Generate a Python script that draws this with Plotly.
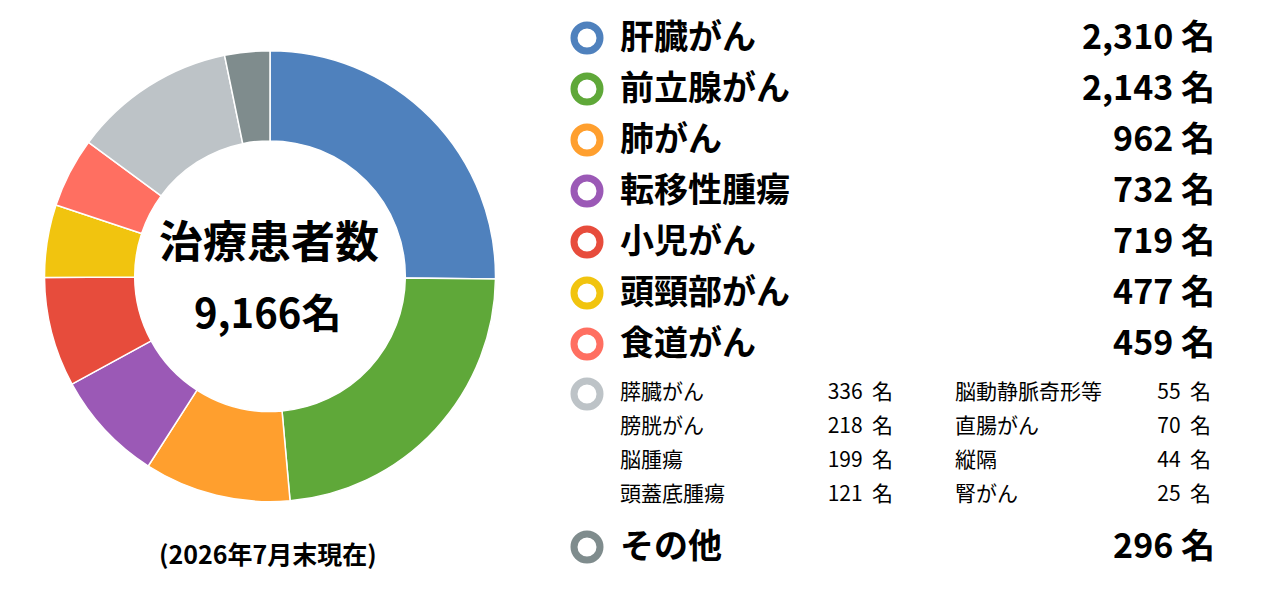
import plotly.graph_objects as go

# 治療患者数の内訳 (2026年7月末現在)
main_labels = ["肝臓がん", "前立腺がん", "肺がん", "転移性腫瘍", "小児がん", "頭頸部がん", "食道がん"]
main_values = [2310, 2143, 962, 732, 719, 477, 459]

# 灰色のグループ(少数の部位)
minor_labels_l = ["膵臓がん", "膀胱がん", "脳腫瘍", "頭蓋底腫瘍"]
minor_values_l = [336, 218, 199, 121]
minor_labels_r = ["脳動静脈奇形等", "直腸がん", "縦隔", "腎がん"]
minor_values_r = [55, 70, 44, 25]

other_label = "その他"
other_value = 296

colors = ["#4F81BD", "#5FA839", "#FF9F2E", "#9B59B6", "#E74C3C",
          "#F1C40F", "#FF6F61", "#BDC3C7", "#7F8C8D"]

minor_total = sum(minor_values_l) + sum(minor_values_r)
pie_values = main_values + [minor_total, other_value]
pie_labels = main_labels + ["その他の部位", other_label]
total = sum(pie_values)

W, H = 1278, 594
OFF = 8  # page body margin, everything is drawn shifted by this
JP = "Noto Sans CJK JP"


def px(x):
    return x - OFF


def py(y):
    return y - OFF


fig = go.Figure()

# ドーナツ
cx, cy, r = 270, 276.2, 225.5
fig.add_trace(go.Pie(
    values=pie_values, labels=pie_labels, hole=0.6,
    sort=False, direction="clockwise", rotation=0,
    marker=dict(colors=colors, line=dict(color="white", width=1.5)),
    textinfo="none", hoverinfo="label+value", showlegend=False,
    domain=dict(x=[px(cx - r) / W, px(cx + r) / W],
                y=[1 - py(cy + r) / H, 1 - py(cy - r) / H]),
))

# 凡例の行位置 (ピクセル)
big_y = [py(38 + 51 * i) for i in range(len(main_labels))]
small_y = [py(394 + 34 * i) for i in range(len(minor_labels_l))]
other_y = py(547)

ring_y = big_y + [small_y[0], other_y]
fig.add_trace(go.Scatter(
    x=[px(587)] * len(ring_y), y=ring_y, mode="markers",
    marker=dict(symbol="circle-open", size=26, color=colors,
                line=dict(width=7, color=colors)),
    hoverinfo="skip", showlegend=False,
))

big_font = dict(family=JP, size=34, color="black", weight="bold")
small_font = dict(family=JP, size=21, color="black")

# 大きい行: ラベル
text_dy = 2
fig.add_trace(go.Scatter(
    x=[px(620)] * (len(main_labels) + 1),
    y=[v + text_dy for v in big_y + [other_y]], mode="text",
    text=main_labels + [other_label], textposition="middle right",
    textfont=big_font, hoverinfo="skip", showlegend=False,
))
# 大きい行: 人数
fig.add_trace(go.Scatter(
    x=[px(1215)] * (len(main_values) + 1),
    y=[v + text_dy for v in big_y + [other_y]], mode="text",
    text=[f"{v:,} 名" for v in main_values + [other_value]],
    textposition="middle left", textfont=big_font,
    hoverinfo="skip", showlegend=False,
))

# 小さい行 (2列)
for lab_x, num_x, labels, values in [(620, 893, minor_labels_l, minor_values_l),
                                     (955, 1211, minor_labels_r, minor_values_r)]:
    fig.add_trace(go.Scatter(
        x=[px(lab_x)] * len(labels), y=small_y, mode="text", text=labels,
        textposition="middle right", textfont=small_font,
        hoverinfo="skip", showlegend=False,
    ))
    fig.add_trace(go.Scatter(
        x=[px(num_x)] * len(values), y=small_y, mode="text",
        text=[f"{v}  名" for v in values],
        textposition="middle left", textfont=small_font,
        hoverinfo="skip", showlegend=False,
    ))

fig.update_layout(
    width=W, height=H,
    margin=dict(l=0, r=0, t=0, b=0),
    paper_bgcolor="white", plot_bgcolor="rgba(0,0,0,0)",
    xaxis=dict(range=[0, W], visible=False, fixedrange=True),
    yaxis=dict(range=[H, 0], visible=False, fixedrange=True),
    annotations=[
        dict(x=px(269) / W, y=1 - py(239) / H, xref="paper", yref="paper",
             xanchor="center", yanchor="middle",
             text="<b>治療患者数</b>", showarrow=False,
             font=dict(family=JP, size=44, color="black")),
        dict(x=px(267) / W, y=1 - py(311) / H, xref="paper", yref="paper",
             xanchor="center", yanchor="middle",
             text=f"<b>{total:,}名</b>", showarrow=False,
             font=dict(family=JP, size=40, color="black")),
        dict(x=px(268) / W, y=1 - py(553) / H, xref="paper", yref="paper",
             xanchor="center", yanchor="middle",
             text="<b>(2026年7月末現在)</b>", showarrow=False,
             font=dict(family=JP, size=25, color="black")),
    ],
)

fig.write_html("out.html")
